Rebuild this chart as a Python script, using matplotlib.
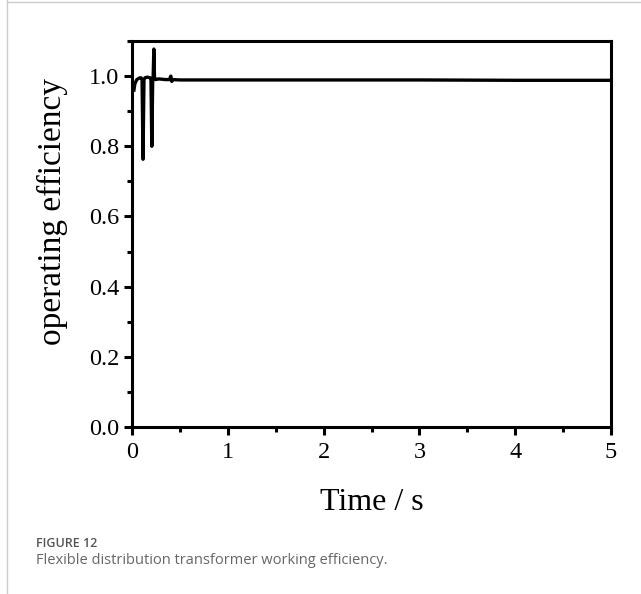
import matplotlib.pyplot as plt
from matplotlib.lines import Line2D
from matplotlib.ticker import MultipleLocator

# operating efficiency trace
time_s = [0.02, 0.03, 0.05, 0.08, 0.095, 0.105, 0.115, 0.125, 0.135, 0.16, 0.19,
          0.198, 0.207, 0.216, 0.221, 0.228, 0.235, 0.245, 0.28, 0.35, 0.39,
          0.405, 0.415, 0.43, 0.5, 1.0, 2.0, 3.0, 4.0, 5.0]
efficiency = [0.96, 0.978, 0.99, 0.995, 0.995, 0.99, 0.763, 0.99, 0.995, 0.997, 0.995,
              0.99, 0.80, 0.99, 1.0, 1.077, 0.995, 0.99, 0.992, 0.99, 0.99,
              1.0, 0.985, 0.99, 0.989, 0.989, 0.989, 0.989, 0.988, 0.988]

plt.rcParams['font.family'] = ['Liberation Serif', 'DejaVu Serif']

fig = plt.figure(figsize=(6.41, 5.94), dpi=100)
# axes box: x 132..611 px, y 41..427 px
ax = fig.add_axes([132 / 641, 1 - 427 / 594, 479 / 641, 386 / 594])

ax.plot(time_s, efficiency, color='black', linewidth=2.4, solid_joinstyle='round')

ax.set_xlim(0, 5)
ax.set_ylim(0, 1.1)
ax.xaxis.set_major_locator(MultipleLocator(1))
ax.xaxis.set_minor_locator(MultipleLocator(0.5))
ax.yaxis.set_minor_locator(MultipleLocator(0.1))
ax.set_yticks([0.0, 0.2, 0.4, 0.6, 0.8, 1.0])
ax.set_yticklabels(['0.0', '0.2', '0.4', '0.6', '0.8', '1.0'])

for side in ax.spines.values():
    side.set_linewidth(2.2)
ax.tick_params(which='major', direction='out', length=6, width=2.2, labelsize=17.5)
ax.tick_params(axis='x', which='major', pad=5)
ax.tick_params(axis='y', which='major', pad=3)
ax.tick_params(which='minor', direction='out', length=3.5, width=2.2)

ax.set_xlabel('Time / s', fontsize=23, labelpad=18)
ax.set_ylabel('operating efficiency', fontsize=24)
ax.yaxis.set_label_coords(-0.134, 0.557)

# caption below the chart
fig.text(36 / 641, 1 - 543.5 / 594, 'FIGURE 12', fontsize=9, color='#555555',
         family='Open Sans', weight='semibold', va='center')
fig.text(36 / 641, 1 - 560 / 594, 'Flexible distribution transformer working efficiency.',
         fontsize=10.5, color='#666666', family='Open Sans', va='center')

# card border lines
fig.add_artist(Line2D([7 / 641, 7 / 641], [0, 1], color='#cccccc', linewidth=1,
                      transform=fig.transFigure))
fig.add_artist(Line2D([7 / 641, 1], [1 - 1.5 / 594, 1 - 1.5 / 594], color='#cccccc',
                      linewidth=1, transform=fig.transFigure))

fig.savefig('out.png', dpi=100)
